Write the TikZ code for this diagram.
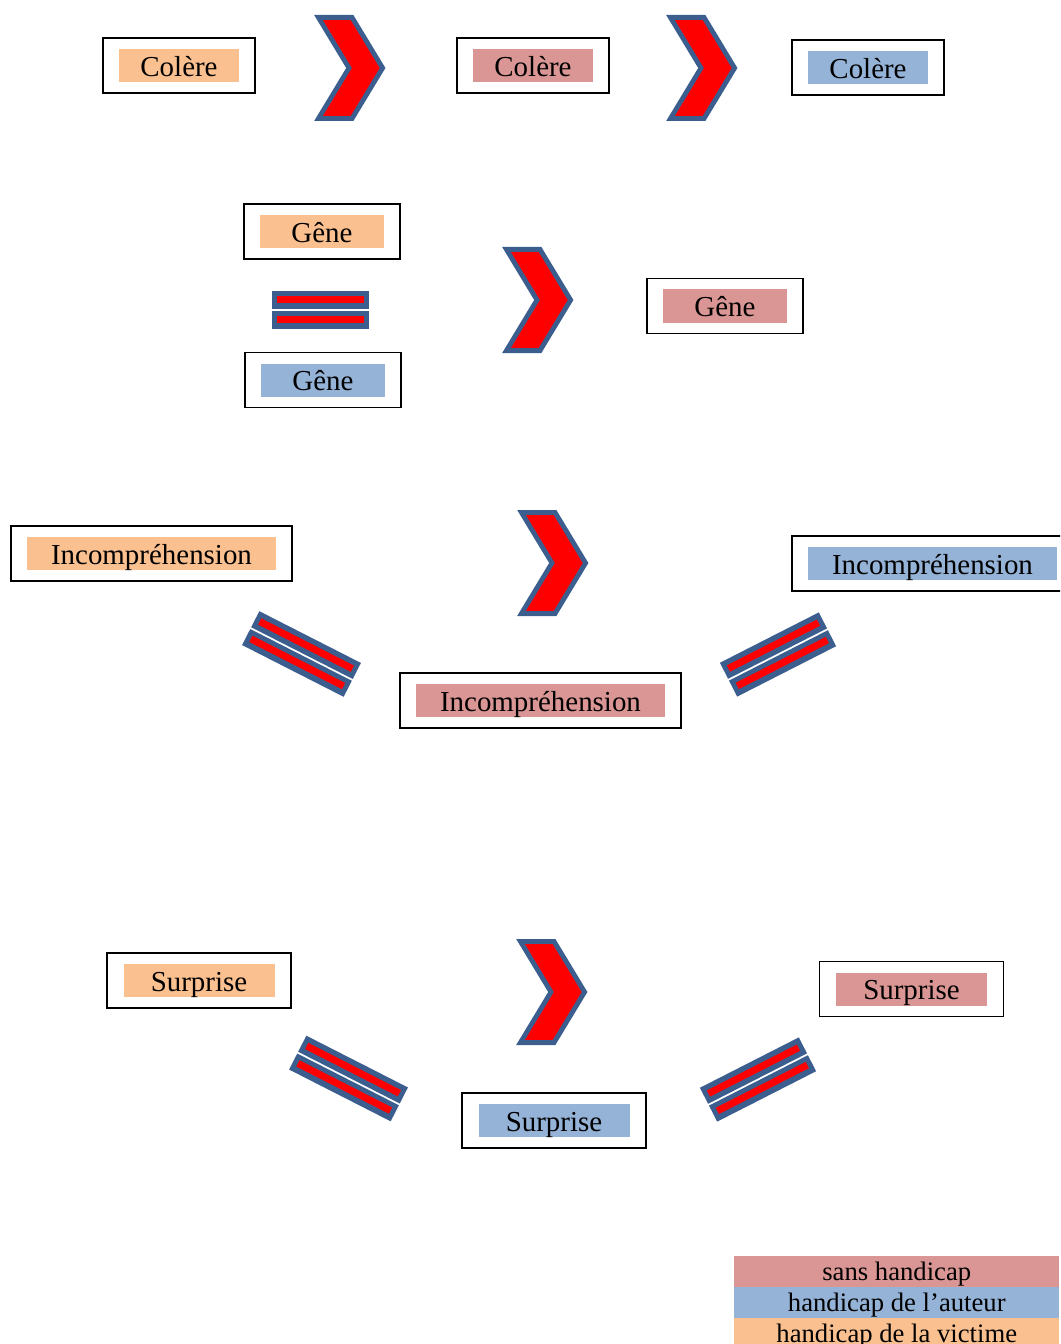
\documentclass[tikz,border=0pt]{standalone}
\usepackage{fontspec}
\setmainfont{Liberation Serif}
\definecolor{orangef}{HTML}{FAC090}
\definecolor{pinkf}{HTML}{D99694}
\definecolor{bluef}{HTML}{95B3D7}
\definecolor{shapeblue}{HTML}{3C5E8F}
\definecolor{shapered}{HTML}{FF0000}
\begin{document}
\begin{tikzpicture}[x=0.75pt,y=-0.75pt,
  frame/.style={draw=black,line width=1.3pt,minimum height=41.25pt,inner sep=0pt},
  lbl/.style={inner sep=0pt,minimum height=24.75pt,text height=15.8pt,text depth=0pt,font=\fontsize{21.7}{26}\selectfont},
  chev/.style={draw=shapeblue,fill=shapered,line width=3.6pt,miter limit=10},
  eqblue/.style={fill=shapeblue},
  eqred/.style={fill=shapered},
  leg/.style={inner sep=0pt,minimum width=243.75pt,minimum height=23.25pt,text height=13.8pt,text depth=0pt,font=\fontsize{20}{24}\selectfont}]
\useasboundingbox (0,0) rectangle (1060,1344);
\clip (0,0) rectangle (1060,1344);

% ---------- chevrons ----------
\foreach \cx/\cy in {316/15, 668/15, 504/247, 519/510, 518/939}{
  \begin{scope}[shift={(\cx,\cy)}]
    \draw[chev] (2.4,2.4) -- (36,2.4) -- (66.6,53) -- (36,103.6) -- (2.4,103.6) -- (33,53) -- cycle;
  \end{scope}
}

% ---------- equal signs ----------
\foreach \ex/\ey/\ang/\len in {320.5/310/0/97, 301.5/654/-27/114, 778/654.5/27/111, 348.5/1078.5/-27/114, 758/1079.5/27/111}{
  \begin{scope}[shift={(\ex,\ey)},rotate=\ang]
    \fill[eqblue] (-\len/2,-19) rectangle (\len/2,-1);
    \fill[eqblue] (-\len/2,1) rectangle (\len/2,19);
    \fill[eqred] (-\len/2+5,-13.5) rectangle (\len/2-5,-6.5);
    \fill[eqred] (-\len/2+5,6) rectangle (\len/2-5,13);
  \end{scope}
}

% ---------- row 1: Colere ----------
\node[frame,minimum width=114pt] (c1f) at (179,65.5) {};
\node[lbl,fill=orangef,minimum width=90pt] (c1) at (179,65.5) {Colère};
\node[frame,minimum width=114pt] (c2f) at (533,65.5) {};
\node[lbl,fill=pinkf,minimum width=90pt] (c2) at (533,65.5) {Colère};
\node[frame,minimum width=114pt] (c3f) at (868,67.5) {};
\node[lbl,fill=bluef,minimum width=90pt] (c3) at (868,67.5) {Colère};

% ---------- row 2: Gene ----------
\node[frame,minimum width=117pt] (g1f) at (322,231.5) {};
\node[lbl,fill=orangef,minimum width=93pt] (g1) at (322,231.5) {Gêne};
\node[frame,minimum width=117pt] (g2f) at (323,380) {};
\node[lbl,fill=bluef,minimum width=93pt] (g2) at (323,380) {Gêne};
\node[frame,minimum width=117pt] (g3f) at (725,306) {};
\node[lbl,fill=pinkf,minimum width=93pt] (g3) at (725,306) {Gêne};

% ---------- row 3: Incomprehension ----------
\node[frame,minimum width=210.75pt] (i1f) at (151.5,553.5) {};
\node[lbl,fill=orangef,minimum width=186.75pt] (i1) at (151.5,553.5) {Incompréhension};
\node[frame,minimum width=210.75pt] (i2f) at (932.5,563.5) {};
\node[lbl,fill=bluef,minimum width=186.75pt] (i2) at (932.5,563.5) {Incompréhension};
\node[frame,minimum width=210.75pt] (i3f) at (540.5,700.5) {};
\node[lbl,fill=pinkf,minimum width=186.75pt] (i3) at (540.5,700.5) {Incompréhension};

% ---------- row 4: Surprise ----------
\node[frame,minimum width=138pt] (s1f) at (199,980.5) {};
\node[lbl,fill=orangef,minimum width=113.25pt] (s1) at (199,980.5) {Surprise};
\node[frame,minimum width=138pt] (s2f) at (911.5,989) {};
\node[lbl,fill=pinkf,minimum width=113.25pt] (s2) at (911.5,989) {Surprise};
\node[frame,minimum width=138pt] (s3f) at (554,1120.5) {};
\node[lbl,fill=bluef,minimum width=113.25pt] (s3) at (554,1120.5) {Surprise};

% ---------- legend ----------
\node[leg,fill=pinkf,anchor=north west] (l1) at (734,1256) {sans handicap};
\node[leg,fill=bluef,anchor=north west] (l2) at (734,1287) {handicap de l’auteur};
\node[leg,fill=orangef,anchor=north west] (l3) at (734,1318) {handicap de la victime};
\end{tikzpicture}
\end{document}
